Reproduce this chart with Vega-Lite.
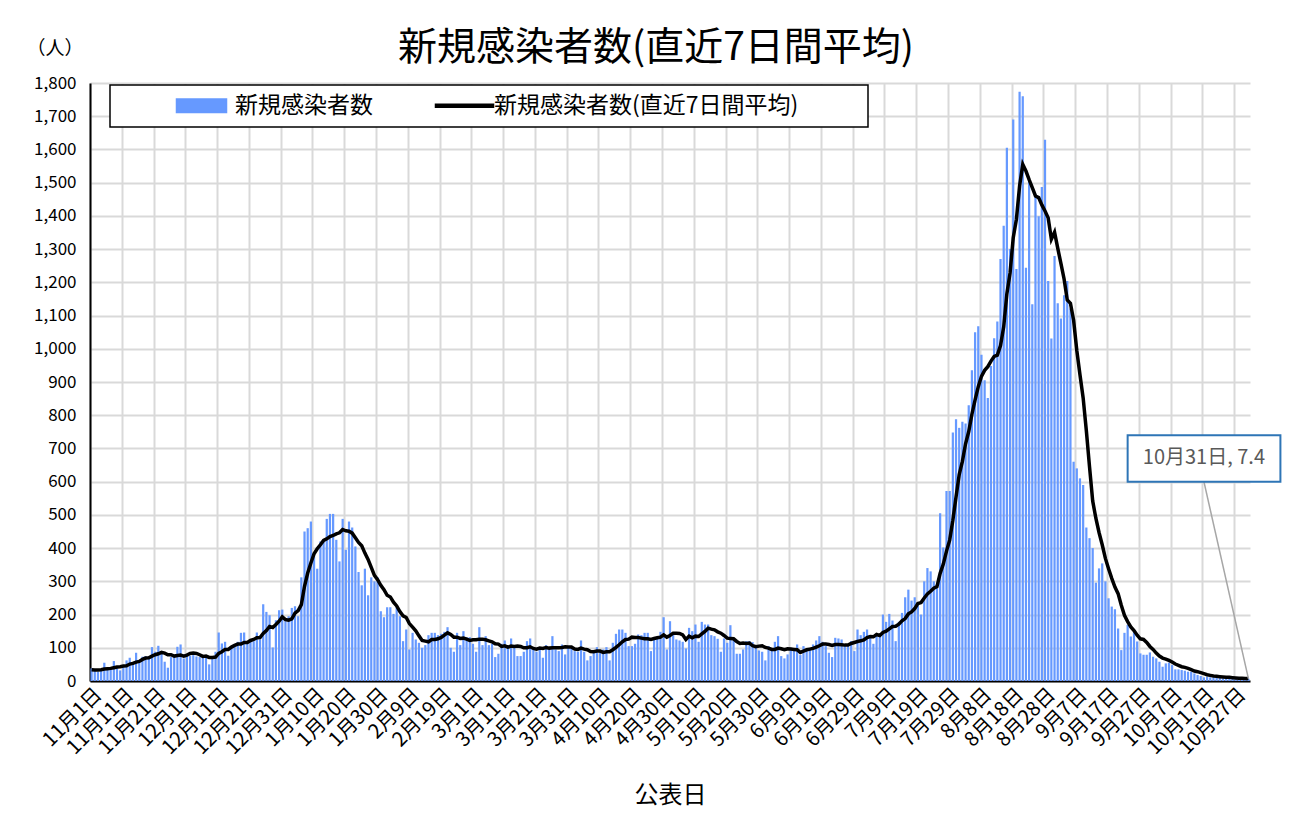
{
  "$schema": "https://vega.github.io/schema/vega-lite/v6.json",
  "width": 1160,
  "height": 598,
  "autosize": {"type": "none"},
  "padding": {"left": 90, "top": 83, "right": 47, "bottom": 135},
  "background": "white",
  "title": {"text": "新規感染者数(直近7日間平均)", "fontSize": 39, "font": "Noto Sans CJK JP", "fontWeight": "normal", "color": "#000000", "frame": "group", "anchor": "middle", "dx": -14, "offset": 0, "baseline": "bottom", "dy": 68},
  "config": {
    "view": {"stroke": null},
    "axis": {"labelFont": "Noto Sans CJK JP", "titleFont": "Noto Sans CJK JP", "labelColor": "#000000", "titleColor": "#000000", "titleFontWeight": "normal", "labelOverlap": false},
    "axisY": {"labelOverlap": false, "tickCount": 19}
  },
  "data": {"values": [
{"d":"11月1日","n":38,"a":34},{"d":"11月2日","n":30,"a":33},{"d":"11月3日","n":28,"a":33},{"d":"11月4日","n":35,"a":34},{"d":"11月5日","n":55,"a":36},{"d":"11月6日","n":35,"a":37},{"d":"11月7日","n":38,"a":38},{"d":"11月8日","n":60,"a":40},{"d":"11月9日","n":45,"a":42},{"d":"11月10日","n":32,"a":43},
{"d":"11月11日","n":48,"a":45},{"d":"11月12日","n":62,"a":46},{"d":"11月13日","n":70,"a":51},{"d":"11月14日","n":55,"a":53},{"d":"11月15日","n":85,"a":57},{"d":"11月16日","n":60,"a":59},{"d":"11月17日","n":73,"a":65},{"d":"11月18日","n":75,"a":69},{"d":"11月19日","n":72,"a":70},{"d":"11月20日","n":102,"a":75},
{"d":"11月21日","n":88,"a":79},{"d":"11月22日","n":106,"a":82},{"d":"11月23日","n":85,"a":86},{"d":"11月24日","n":58,"a":84},{"d":"11月25日","n":40,"a":79},{"d":"11月26日","n":72,"a":79},{"d":"11月27日","n":75,"a":75},{"d":"11月28日","n":103,"a":77},{"d":"11月29日","n":110,"a":78},{"d":"11月30日","n":68,"a":75},
{"d":"12月1日","n":75,"a":78},{"d":"12月2日","n":76,"a":83},{"d":"12月3日","n":78,"a":84},{"d":"12月4日","n":74,"a":83},{"d":"12月5日","n":72,"a":79},{"d":"12月6日","n":75,"a":74},{"d":"12月7日","n":72,"a":75},{"d":"12月8日","n":50,"a":71},{"d":"12月9日","n":75,"a":71},{"d":"12月10日","n":88,"a":72},
{"d":"12月11日","n":146,"a":83},{"d":"12月12日","n":113,"a":88},{"d":"12月13日","n":118,"a":95},{"d":"12月14日","n":76,"a":95},{"d":"12月15日","n":100,"a":102},{"d":"12月16日","n":108,"a":107},{"d":"12月17日","n":118,"a":111},{"d":"12月18日","n":145,"a":111},{"d":"12月19日","n":146,"a":116},{"d":"12月20日","n":118,"a":116},
{"d":"12月21日","n":118,"a":122},{"d":"12月22日","n":120,"a":125},{"d":"12月23日","n":146,"a":130},{"d":"12月24日","n":125,"a":131},{"d":"12月25日","n":231,"a":143},{"d":"12月26日","n":208,"a":152},{"d":"12月27日","n":198,"a":164},{"d":"12月28日","n":101,"a":161},{"d":"12月29日","n":183,"a":170},{"d":"12月30日","n":213,"a":180},{"d":"12月31日","n":215,"a":193},
{"d":"1月1日","n":180,"a":185},{"d":"1月2日","n":195,"a":183},{"d":"1月3日","n":220,"a":187},{"d":"1月4日","n":225,"a":204},{"d":"1月5日","n":195,"a":212},{"d":"1月6日","n":312,"a":230},{"d":"1月7日","n":450,"a":285},{"d":"1月8日","n":460,"a":325},{"d":"1月9日","n":480,"a":355},{"d":"1月10日","n":388,"a":383},
{"d":"1月11日","n":338,"a":398},{"d":"1月12日","n":420,"a":410},{"d":"1月13日","n":425,"a":423},{"d":"1月14日","n":488,"a":428},{"d":"1月15日","n":503,"a":435},{"d":"1月16日","n":503,"a":438},{"d":"1月17日","n":425,"a":443},{"d":"1月18日","n":360,"a":446},{"d":"1月19日","n":488,"a":456},{"d":"1月20日","n":395,"a":452},
{"d":"1月21日","n":480,"a":451},{"d":"1月22日","n":462,"a":445},{"d":"1月23日","n":405,"a":431},{"d":"1月24日","n":328,"a":417},{"d":"1月25日","n":288,"a":407},{"d":"1月26日","n":338,"a":385},{"d":"1月27日","n":258,"a":366},{"d":"1月28日","n":312,"a":342},{"d":"1月29日","n":300,"a":318},{"d":"1月30日","n":312,"a":305},{"d":"1月31日","n":210,"a":288},
{"d":"2月1日","n":192,"a":275},{"d":"2月2日","n":222,"a":258},{"d":"2月3日","n":222,"a":253},{"d":"2月4日","n":202,"a":237},{"d":"2月5日","n":222,"a":226},{"d":"2月6日","n":195,"a":209},{"d":"2月7日","n":120,"a":196},{"d":"2月8日","n":155,"a":191},{"d":"2月9日","n":95,"a":173},{"d":"2月10日","n":145,"a":162},
{"d":"2月11日","n":125,"a":151},{"d":"2月12日","n":115,"a":136},{"d":"2月13日","n":100,"a":122},{"d":"2月14日","n":108,"a":120},{"d":"2月15日","n":138,"a":118},{"d":"2月16日","n":145,"a":125},{"d":"2月17日","n":145,"a":125},{"d":"2月18日","n":138,"a":127},{"d":"2月19日","n":142,"a":131},{"d":"2月20日","n":148,"a":138},
{"d":"2月21日","n":162,"a":145},{"d":"2月22日","n":100,"a":140},{"d":"2月23日","n":88,"a":132},{"d":"2月24日","n":145,"a":132},{"d":"2月25日","n":108,"a":128},{"d":"2月26日","n":150,"a":129},{"d":"2月27日","n":132,"a":126},{"d":"2月28日","n":132,"a":122},
{"d":"3月1日","n":112,"a":124},{"d":"3月2日","n":88,"a":124},{"d":"3月3日","n":162,"a":126},{"d":"3月4日","n":108,"a":126},{"d":"3月5日","n":135,"a":124},{"d":"3月6日","n":108,"a":121},{"d":"3月7日","n":112,"a":118},{"d":"3月8日","n":72,"a":112},{"d":"3月9日","n":82,"a":111},{"d":"3月10日","n":112,"a":104},
{"d":"3月11日","n":122,"a":106},{"d":"3月12日","n":105,"a":102},{"d":"3月13日","n":128,"a":105},{"d":"3月14日","n":108,"a":104},{"d":"3月15日","n":75,"a":105},{"d":"3月16日","n":75,"a":104},{"d":"3月17日","n":88,"a":100},{"d":"3月18日","n":120,"a":100},{"d":"3月19日","n":128,"a":103},{"d":"3月20日","n":95,"a":98},
{"d":"3月21日","n":88,"a":96},{"d":"3月22日","n":100,"a":99},{"d":"3月23日","n":70,"a":98},{"d":"3月24日","n":108,"a":101},{"d":"3月25日","n":102,"a":99},{"d":"3月26日","n":135,"a":100},{"d":"3月27日","n":95,"a":100},{"d":"3月28日","n":90,"a":100},{"d":"3月29日","n":110,"a":101},{"d":"3月30日","n":80,"a":103},{"d":"3月31日","n":105,"a":102},
{"d":"4月1日","n":100,"a":102},{"d":"4月2日","n":90,"a":96},{"d":"4月3日","n":88,"a":95},{"d":"4月4日","n":122,"a":99},{"d":"4月5日","n":88,"a":96},{"d":"4月6日","n":62,"a":94},{"d":"4月7日","n":75,"a":89},{"d":"4月8日","n":90,"a":88},{"d":"4月9日","n":102,"a":90},{"d":"4月10日","n":90,"a":90},
{"d":"4月11日","n":95,"a":86},{"d":"4月12日","n":102,"a":88},{"d":"4月13日","n":62,"a":88},{"d":"4月14日","n":115,"a":94},{"d":"4月15日","n":142,"a":101},{"d":"4月16日","n":155,"a":109},{"d":"4月17日","n":155,"a":118},{"d":"4月18日","n":145,"a":125},{"d":"4月19日","n":105,"a":126},{"d":"4月20日","n":105,"a":132},
{"d":"4月21日","n":112,"a":131},{"d":"4月22日","n":140,"a":131},{"d":"4月23日","n":138,"a":129},{"d":"4月24日","n":145,"a":127},{"d":"4月25日","n":145,"a":127},{"d":"4月26日","n":90,"a":125},{"d":"4月27日","n":125,"a":128},{"d":"4月28日","n":130,"a":130},{"d":"4月29日","n":148,"a":132},{"d":"4月30日","n":192,"a":139},
{"d":"5月1日","n":95,"a":132},{"d":"5月2日","n":180,"a":137},{"d":"5月3日","n":140,"a":144},{"d":"5月4日","n":125,"a":144},{"d":"5月5日","n":122,"a":143},{"d":"5月6日","n":118,"a":139},{"d":"5月7日","n":98,"a":125},{"d":"5月8日","n":160,"a":135},{"d":"5月9日","n":150,"a":130},{"d":"5月10日","n":170,"a":135},
{"d":"5月11日","n":118,"a":134},{"d":"5月12日","n":178,"a":142},{"d":"5月13日","n":170,"a":149},{"d":"5月14日","n":170,"a":159},{"d":"5月15日","n":138,"a":156},{"d":"5月16日","n":135,"a":154},{"d":"5月17日","n":127,"a":148},{"d":"5月18日","n":88,"a":144},{"d":"5月19日","n":128,"a":137},{"d":"5月20日","n":115,"a":129},
{"d":"5月21日","n":168,"a":128},{"d":"5月22日","n":128,"a":127},{"d":"5月23日","n":82,"a":119},{"d":"5月24日","n":82,"a":113},{"d":"5月25日","n":95,"a":114},{"d":"5月26日","n":120,"a":113},{"d":"5月27日","n":120,"a":114},{"d":"5月28日","n":117,"a":106},{"d":"5月29日","n":108,"a":103},{"d":"5月30日","n":92,"a":105},{"d":"5月31日","n":88,"a":106},
{"d":"6月1日","n":62,"a":101},{"d":"6月2日","n":105,"a":99},{"d":"6月3日","n":95,"a":95},{"d":"6月4日","n":118,"a":95},{"d":"6月5日","n":135,"a":99},{"d":"6月6日","n":75,"a":97},{"d":"6月7日","n":68,"a":94},{"d":"6月8日","n":80,"a":97},{"d":"6月9日","n":100,"a":96},{"d":"6月10日","n":92,"a":95},
{"d":"6月11日","n":110,"a":94},{"d":"6月12日","n":78,"a":86},{"d":"6月13日","n":105,"a":90},{"d":"6月14日","n":95,"a":94},{"d":"6月15日","n":95,"a":96},{"d":"6月16日","n":110,"a":98},{"d":"6月17日","n":122,"a":102},{"d":"6月18日","n":135,"a":106},{"d":"6月19日","n":118,"a":111},{"d":"6月20日","n":105,"a":111},
{"d":"6月21日","n":85,"a":110},{"d":"6月22日","n":72,"a":107},{"d":"6月23日","n":130,"a":110},{"d":"6月24日","n":128,"a":110},{"d":"6月25日","n":125,"a":109},{"d":"6月26日","n":108,"a":108},{"d":"6月27日","n":110,"a":108},{"d":"6月28日","n":120,"a":113},{"d":"6月29日","n":90,"a":116},{"d":"6月30日","n":155,"a":119},
{"d":"7月1日","n":138,"a":121},{"d":"7月2日","n":148,"a":124},{"d":"7月3日","n":155,"a":131},{"d":"7月4日","n":132,"a":134},{"d":"7月5日","n":112,"a":133},{"d":"7月6日","n":140,"a":140},{"d":"7月7日","n":135,"a":137},{"d":"7月8日","n":200,"a":146},{"d":"7月9日","n":178,"a":150},{"d":"7月10日","n":202,"a":157},
{"d":"7月11日","n":182,"a":164},{"d":"7月12日","n":120,"a":165},{"d":"7月13日","n":178,"a":171},{"d":"7月14日","n":205,"a":181},{"d":"7月15日","n":252,"a":188},{"d":"7月16日","n":275,"a":202},{"d":"7月17日","n":242,"a":208},{"d":"7月18日","n":252,"a":218},{"d":"7月19日","n":228,"a":233},{"d":"7月20日","n":200,"a":236},
{"d":"7月21日","n":300,"a":250},{"d":"7月22日","n":340,"a":262},{"d":"7月23日","n":330,"a":270},{"d":"7月24日","n":300,"a":279},{"d":"7月25日","n":290,"a":284},{"d":"7月26日","n":505,"a":324},{"d":"7月27日","n":402,"a":352},{"d":"7月28日","n":572,"a":391},{"d":"7月29日","n":572,"a":424},{"d":"7月30日","n":748,"a":484},{"d":"7月31日","n":788,"a":554},
{"d":"8月1日","n":762,"a":621},{"d":"8月2日","n":780,"a":661},{"d":"8月3日","n":775,"a":714},{"d":"8月4日","n":830,"a":751},{"d":"8月5日","n":935,"a":803},{"d":"8月6日","n":1050,"a":846},{"d":"8月7日","n":1068,"a":886},{"d":"8月8日","n":982,"a":917},{"d":"8月9日","n":905,"a":935},{"d":"8月10日","n":852,"a":946},
{"d":"8月11日","n":948,"a":963},{"d":"8月12日","n":1032,"a":977},{"d":"8月13日","n":1082,"a":981},{"d":"8月14日","n":1270,"a":1010},{"d":"8月15日","n":1370,"a":1066},{"d":"8月16日","n":1605,"a":1166},{"d":"8月17日","n":1300,"a":1228},{"d":"8月18日","n":1690,"a":1334},{"d":"8月19日","n":1240,"a":1390},{"d":"8月20日","n":1774,"a":1490},
{"d":"8月21日","n":1760,"a":1555},{"d":"8月22日","n":1244,"a":1535},{"d":"8月23日","n":1504,"a":1509},{"d":"8月24日","n":1134,"a":1485},{"d":"8月25日","n":1464,"a":1460},{"d":"8月26日","n":1399,"a":1455},{"d":"8月27日","n":1487,"a":1433},{"d":"8月28日","n":1629,"a":1415},{"d":"8月29日","n":1204,"a":1394},{"d":"8月30日","n":1031,"a":1330},{"d":"8月31日","n":1279,"a":1351},
{"d":"9月1日","n":1137,"a":1303},{"d":"9月2日","n":1091,"a":1257},{"d":"9月3日","n":1161,"a":1210},{"d":"9月4日","n":1204,"a":1147},{"d":"9月5日","n":1121,"a":1137},{"d":"9月6日","n":660,"a":1086},{"d":"9月7日","n":640,"a":995},{"d":"9月8日","n":610,"a":922},{"d":"9月9日","n":590,"a":852},{"d":"9月10日","n":462,"a":754},
{"d":"9月11日","n":430,"a":645},{"d":"9月12日","n":400,"a":542},{"d":"9月13日","n":296,"a":490},{"d":"9月14日","n":339,"a":447},{"d":"9月15日","n":354,"a":410},{"d":"9月16日","n":300,"a":369},{"d":"9月17日","n":249,"a":338},{"d":"9月18日","n":224,"a":309},{"d":"9月19日","n":216,"a":283},{"d":"9月20日","n":158,"a":263},
{"d":"9月21日","n":93,"a":228},{"d":"9月22日","n":145,"a":198},{"d":"9月23日","n":169,"a":179},{"d":"9月24日","n":134,"a":163},{"d":"9月25日","n":149,"a":152},{"d":"9月26日","n":119,"a":138},{"d":"9月27日","n":83,"a":127},{"d":"9月28日","n":79,"a":125},{"d":"9月29日","n":79,"a":116},{"d":"9月30日","n":86,"a":104},
{"d":"10月1日","n":73,"a":95},{"d":"10月2日","n":68,"a":84},{"d":"10月3日","n":58,"a":75},{"d":"10月4日","n":43,"a":69},{"d":"10月5日","n":53,"a":66},{"d":"10月6日","n":55,"a":62},{"d":"10月7日","n":48,"a":57},{"d":"10月8日","n":35,"a":51},{"d":"10月9日","n":35,"a":47},{"d":"10月10日","n":33,"a":43},
{"d":"10月11日","n":31,"a":41},{"d":"10月12日","n":28,"a":38},{"d":"10月13日","n":28,"a":34},{"d":"10月14日","n":23,"a":30},{"d":"10月15日","n":18,"a":28},{"d":"10月16日","n":15,"a":25},{"d":"10月17日","n":11,"a":22},{"d":"10月18日","n":13,"a":19},{"d":"10月19日","n":11,"a":17},{"d":"10月20日","n":11,"a":15},
{"d":"10月21日","n":18,"a":14},{"d":"10月22日","n":11,"a":13},{"d":"10月23日","n":8,"a":12},{"d":"10月24日","n":8,"a":11},{"d":"10月25日","n":8,"a":11},{"d":"10月26日","n":7,"a":10},{"d":"10月27日","n":6,"a":9},{"d":"10月28日","n":7,"a":8},{"d":"10月29日","n":9,"a":8},{"d":"10月30日","n":8,"a":7.6},{"d":"10月31日","n":7,"a":7.4}
  ]},
  "layer": [
    {
      "mark": {"type": "bar"},
      "encoding": {
        "x": {
          "field": "d", "type": "ordinal", "sort": null,
          "scale": {"paddingInner": 0.3, "paddingOuter": 0.15},
          "axis": {
            "values": ["11月1日","11月11日","11月21日","12月1日","12月11日","12月21日","12月31日","1月10日","1月20日","1月30日","2月9日","2月19日","3月1日","3月11日","3月21日","3月31日","4月10日","4月20日","4月30日","5月10日","5月20日","5月30日","6月9日","6月19日","6月29日","7月9日","7月19日","7月29日","8月8日","8月18日","8月28日","9月7日","9月17日","9月27日","10月7日","10月17日","10月27日"],
            "bandPosition": 0,
            "labelAngle": -45, "labelFontSize": 20, "labelPadding": 3, "labelOverlap": false,
            "ticks": false, "domainColor": "#000000", "domainWidth": 2,
            "grid": true, "gridColor": "#D9D9D9", "gridWidth": 2,
            "title": "公表日", "titleFontSize": 24, "titleY": 114, "titleBaseline": "middle"
          }
        },
        "y": {
          "field": "n", "type": "quantitative",
          "scale": {"domain": [0, 1800], "nice": false},
          "axis": {
            "values": [0,100,200,300,400,500,600,700,800,900,1000,1100,1200,1300,1400,1500,1600,1700,1800],
            "tickCount": 19,
            "format": ",d", "labelFontSize": 17, "labelPadding": 14, "labelOverlap": false,
            "ticks": false, "domainColor": "#000000", "domainWidth": 2,
            "grid": true, "gridColor": "#D9D9D9", "gridWidth": 2,
            "title": "（人）", "titleAngle": 0, "titleX": -64, "titleY": -35, "titleAlign": "left", "titleBaseline": "middle", "titleFontSize": 19
          }
        },
        "color": {
          "datum": "新規感染者数",
          "scale": {"domain": ["新規感染者数", "新規感染者数(直近7日間平均)"], "range": ["#6699FF", "#000000"]},
          "legend": {
            "orient": "none", "legendX": 20, "legendY": 2, "direction": "horizontal",
            "title": "　", "titleOrient": "left", "titleFontSize": 10, "titlePadding": 56,
            "padding": 9, "strokeColor": "#000000", "fillColor": "#FFFFFF",
            "labelFontSize": 23, "labelFont": "Noto Sans CJK JP", "labelColor": "#000000", "labelOffset": 37, "labelLimit": 700,
            "columnPadding": 59, "symbolSize": 400,
            "encode": {
              "legend": {"update": {"strokeWidth": {"value": 1.5}}},
              "symbols": {"update": {
                "shape": {"signal": "datum.value == '新規感染者数' ? 'M-1,-0.68H4.0V0.68H-1Z' : 'M-1,-0.15H4.8V0.15H-1Z M41,0L41,0.01'"},
                "fill": {"signal": "datum.value == '新規感染者数' ? '#6699FF' : '#000000'"},
                "stroke": {"value": "transparent"},
                "size": {"value": 400},
                "opacity": {"value": 1}
              }}
            }
          }
        }
      }
    },
    {
      "mark": {"type": "line", "strokeWidth": 3.5},
      "encoding": {
        "x": {"field": "d", "type": "ordinal", "sort": null},
        "y": {"field": "a", "type": "quantitative", "axis": {"values": [0,100,200,300,400,500,600,700,800,900,1000,1100,1200,1300,1400,1500,1600,1700,1800], "tickCount": 19, "format": ",d", "labelOverlap": false}},
        "color": {"datum": "新規感染者数(直近7日間平均)"}
      }
    },
    {
      "data": {"values": [{"label": "10月31日, 7.4"}]},
      "mark": {"type": "rule", "color": "#A6A6A6", "strokeWidth": 1.5},
      "encoding": {
        "x": {"datum": "10月17日", "type": "ordinal"},
        "x2": {"datum": "10月31日"},
        "y": {"datum": 600, "type": "quantitative"},
        "y2": {"datum": 7.4}
      }
    },
    {
      "data": {"values": [{"label": "10月31日, 7.4"}]},
      "mark": {"type": "rect", "fill": "#FFFFFF", "stroke": "#2E75B6", "strokeWidth": 2, "x2Offset": 32},
      "encoding": {
        "x": {"datum": "9月23日", "type": "ordinal"},
        "x2": {"datum": "10月31日"},
        "y": {"datum": 740, "type": "quantitative"},
        "y2": {"datum": 600}
      }
    },
    {
      "data": {"values": [{"label": "10月31日, 7.4"}]},
      "mark": {"type": "text", "fontSize": 20, "color": "#595959", "font": "Noto Sans CJK JP", "align": "center", "baseline": "middle"},
      "encoding": {
        "x": {"datum": "10月17日", "type": "ordinal"},
        "y": {"datum": 670, "type": "quantitative"},
        "text": {"field": "label"}
      }
    }
  ]
}
